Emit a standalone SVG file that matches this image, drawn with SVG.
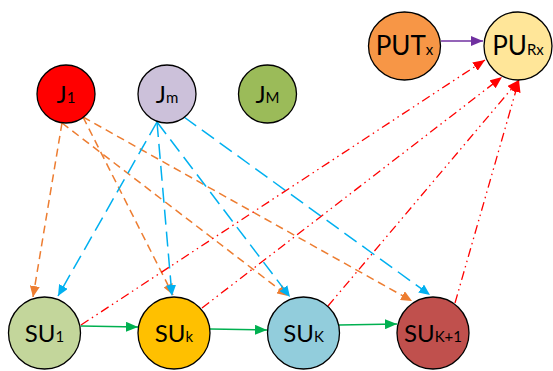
<svg xmlns="http://www.w3.org/2000/svg" width="553" height="371" viewBox="0 0 553 371">
<defs>
<style>
.node{stroke:#000;stroke-width:1.3}
.lbl{font-family:Lato,"Liberation Sans",sans-serif;fill:#000;text-anchor:middle}
.big{font-size:24px}
.pu{font-size:26px}
.sub{font-size:15px}
.or{stroke:#ED7D31;stroke-width:1.5;stroke-dasharray:8 5;fill:none}
.bl{stroke:#00B0F0;stroke-width:1.5;stroke-dasharray:15 7;fill:none}
.rd{stroke:#FF0000;stroke-width:1.3;stroke-dasharray:9 4 1.5 4 1.5 4;fill:none}
.gr{stroke:#00B050;stroke-width:1.6;fill:none}
.pp{stroke:#7030A0;stroke-width:1.5;fill:none}
</style>
<marker id="aO" markerUnits="userSpaceOnUse" markerWidth="11" markerHeight="10" refX="11" refY="5" orient="auto"><path d="M0,0 L11,5 L0,10 z" fill="#ED7D31"/></marker>
<marker id="aB" markerUnits="userSpaceOnUse" markerWidth="11" markerHeight="10" refX="11" refY="5" orient="auto"><path d="M0,0 L11,5 L0,10 z" fill="#00B0F0"/></marker>
<marker id="aR" markerUnits="userSpaceOnUse" markerWidth="12" markerHeight="10" refX="12" refY="5" orient="auto"><path d="M0,0 L12,5 L0,10 z" fill="#FF0000"/></marker>
<marker id="aG" markerUnits="userSpaceOnUse" markerWidth="12" markerHeight="10" refX="12" refY="5" orient="auto"><path d="M0,0 L12,5 L0,10 z" fill="#00B050"/></marker>
<marker id="aP" markerUnits="userSpaceOnUse" markerWidth="12" markerHeight="10" refX="12" refY="5" orient="auto"><path d="M0,0 L12,5 L0,10 z" fill="#7030A0"/></marker>
</defs>
<g id="connectors">
<line class="or" x1="62" y1="123" x2="33" y2="297" marker-end="url(#aO)"/>
<line class="or" x1="62" y1="123" x2="288" y2="296" marker-end="url(#aO)"/>
<line class="or" x1="83" y1="117" x2="173" y2="295" marker-end="url(#aO)"/>
<line class="or" x1="83" y1="117" x2="412" y2="301" marker-end="url(#aO)"/>
<line class="bl" x1="157" y1="122" x2="58" y2="296" marker-end="url(#aB)"/>
<line class="bl" x1="157" y1="122" x2="172" y2="296" marker-end="url(#aB)"/>
<line class="bl" x1="157" y1="122" x2="290" y2="297" marker-end="url(#aB)"/>
<line class="bl" x1="184" y1="117" x2="430" y2="295" marker-end="url(#aB)"/>
<line class="rd" x1="81" y1="325" x2="485" y2="60" marker-end="url(#aR)"/>
<line class="rd" x1="202" y1="308" x2="502" y2="77" marker-end="url(#aR)"/>
<line class="rd" x1="328" y1="306" x2="519" y2="80" marker-end="url(#aR)"/>
<line class="rd" x1="455" y1="303" x2="519" y2="80" marker-end="url(#aR)"/>
<line class="gr" x1="81" y1="326" x2="138" y2="327" marker-end="url(#aG)"/>
<line class="gr" x1="210" y1="329" x2="267" y2="330" marker-end="url(#aG)"/>
<line class="gr" x1="339" y1="325" x2="397" y2="324" marker-end="url(#aG)"/>
<line class="pp" x1="441" y1="41" x2="483" y2="41" marker-end="url(#aP)"/>
</g>
<g id="J1"><circle class="node" cx="66" cy="94" r="29" fill="#FF0000"/><text class="lbl big" x="66" y="103">J<tspan class="sub">1</tspan></text></g>
<g id="Jm"><circle class="node" cx="167" cy="94" r="29" fill="#CCC1DA"/><text class="lbl big" x="167" y="103">J<tspan class="sub">m</tspan></text></g>
<g id="JM"><circle class="node" cx="267.5" cy="94" r="29" fill="#9BBB59"/><text class="lbl big" x="267.5" y="103">J<tspan class="sub">M</tspan></text></g>
<g id="PUTx"><ellipse class="node" cx="404.5" cy="46" rx="36" ry="34" fill="#F79646"/><text class="lbl pu" x="404.5" y="55">PUT<tspan class="sub">x</tspan></text></g>
<g id="PURx"><ellipse class="node" cx="518" cy="46" rx="34" ry="34" fill="#FFE699"/><text class="lbl pu" x="518" y="55">PU<tspan class="sub">Rx</tspan></text></g>
<g id="SU1"><circle class="node" cx="44.5" cy="333" r="36" fill="#C3D69B"/><text class="lbl big" x="44.5" y="342">SU<tspan class="sub">1</tspan></text></g>
<g id="SUk"><circle class="node" cx="174" cy="333" r="36" fill="#FFC000"/><text class="lbl big" x="174" y="342">SU<tspan class="sub">k</tspan></text></g>
<g id="SUK"><circle class="node" cx="303.5" cy="333" r="36" fill="#92CDDC"/><text class="lbl big" x="303.5" y="342">SU<tspan class="sub">K</tspan></text></g>
<g id="SUK1"><circle class="node" cx="433" cy="333" r="36" fill="#C0504D"/><text class="lbl big" x="433" y="342">SU<tspan class="sub">K+1</tspan></text></g>
</svg>
